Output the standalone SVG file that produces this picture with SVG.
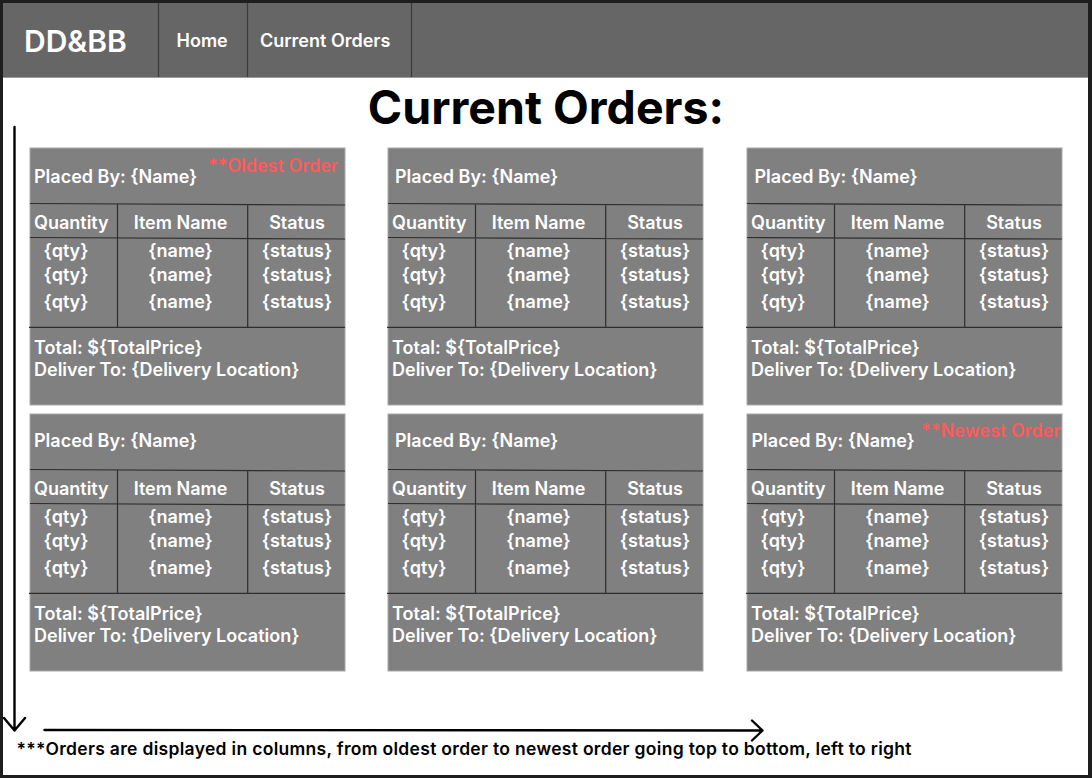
<svg xmlns="http://www.w3.org/2000/svg" width="1092" height="778" viewBox="0 0 1092 778">
<defs>
<style>
.t{font-family:Inter,"Noto Sans","Liberation Sans",sans-serif;}
.nav{fill:#ffffff;font-weight:600;font-size:18px;}
.card{fill:#808080;stroke:#a8a8a8;stroke-width:1;}
.grid{stroke:#2e2e2e;stroke-width:1.2;fill:none;}
.ct{fill:#ffffff;font-weight:600;font-size:18px;}
.mid{text-anchor:middle;}
.red{fill:#ff5a5a;font-weight:600;font-size:18px;}
.arr{stroke:#000;stroke-width:2.4;fill:none;stroke-linecap:round;stroke-linejoin:round;}
</style>
<g id="cardbody">
<rect class="card" x="0" y="0" width="315" height="257"/>
<path class="grid" d="M0 55.5 L315 57 M0 89.5 L315 91 M-1 179.3 L315 179.3 M87.5 56 L87.5 179.3 M217.7 57 L217.7 179.3"/>
<g class="t ct">
<text x="4" y="80.5">Quantity</text>
<text class="mid" x="150.5" y="80.5">Item Name</text>
<text class="mid" x="267" y="80.5">Status</text>
<text class="mid" x="36" y="109">{qty}</text>
<text class="mid" x="36" y="133">{qty}</text>
<text class="mid" x="36" y="160">{qty}</text>
<text class="mid" x="150.5" y="109">{name}</text>
<text class="mid" x="150.5" y="133">{name}</text>
<text class="mid" x="150.5" y="160">{name}</text>
<text class="mid" x="267" y="109">{status}</text>
<text class="mid" x="267" y="133">{status}</text>
<text class="mid" x="267" y="160">{status}</text>
<text x="4" y="205.5">Total: ${TotalPrice}</text>
<text x="4" y="227.5">Deliver To: {Delivery Location}</text>
</g>
</g>
</defs>
<rect x="0" y="0" width="1092" height="778" fill="#1e1e1e"/>
<rect x="3" y="3" width="1085" height="772" fill="#ffffff"/>
<g id="navbar">
<rect x="3" y="3" width="1085" height="74" fill="#666666"/>
<line x1="3" y1="77.5" x2="1088" y2="77.5" stroke="#9a9a9a" stroke-width="1"/>
<path d="M158.5 3 V77 M247.5 3 V77 M411.5 3 V77" stroke="#3a3a3a" stroke-width="1.2"/>
<text class="t" x="24" y="51.7" fill="#ffffff" font-weight="600" font-size="30">DD&amp;BB</text>
<text class="t nav" x="176.5" y="46.7">Home</text>
<text class="t nav" x="260" y="46.7">Current Orders</text>
</g>
<text id="title" class="t" x="546" y="124" text-anchor="middle" font-weight="700" font-size="46.5" fill="#000">Current Orders:</text>
<g id="card1" transform="translate(30,148)">
<use href="#cardbody"/>
<text class="t ct" x="4" y="34.5">Placed By: {Name}</text>
<text class="t red" x="178" y="23.5">**Oldest Order</text>
</g>
<g id="card2" transform="translate(388,148)">
<use href="#cardbody"/>
<text class="t ct" x="7" y="34.5">Placed By: {Name}</text>
</g>
<g id="card3" transform="translate(747,148)">
<use href="#cardbody"/>
<text class="t ct" x="7.5" y="34.5">Placed By: {Name}</text>
</g>
<g id="card4" transform="translate(30,414)">
<use href="#cardbody"/>
<text class="t ct" x="4" y="32.5">Placed By: {Name}</text>
</g>
<g id="card5" transform="translate(388,414)">
<use href="#cardbody"/>
<text class="t ct" x="7" y="32.5">Placed By: {Name}</text>
</g>
<g id="card6" transform="translate(747,414)">
<use href="#cardbody"/>
<text class="t ct" x="4.5" y="32.5">Placed By: {Name}</text>
<text class="t red" x="174" y="22.5">**Newest Order</text>
</g>
<g id="connectors">
<path class="arr" d="M14.5 127 L14.5 730.5 M4 718 L14.5 730.5 L25 718"/>
<path class="arr" d="M44.5 730 L762.5 730.5 M752 720.5 L762.5 730.5 L752 740.5"/>
</g>
<text id="note" class="t" x="16.5" y="755" font-weight="600" font-size="17.5" fill="#000" textLength="895" lengthAdjust="spacing">***Orders are displayed in columns, from oldest order to newest order going top to bottom, left to right</text>
</svg>
